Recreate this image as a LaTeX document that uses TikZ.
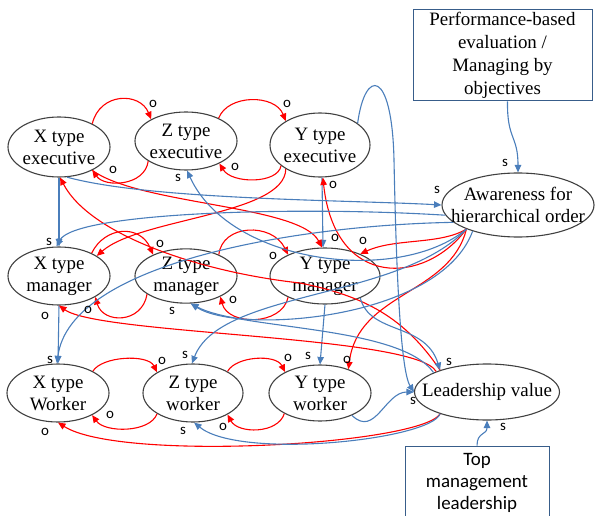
\documentclass[tikz,border=0pt]{standalone}
\usepackage{fontspec}
\setmainfont{Liberation Serif}
\newfontfamily\lblfont{Carlito}
\usetikzlibrary{arrows.meta,shapes.geometric}
\definecolor{linkred}{RGB}{255,0,0}
\definecolor{linkblue}{RGB}{74,126,187}
\definecolor{rim}{RGB}{64,64,64}
\definecolor{boxrim}{RGB}{56,93,138}
% two centred lines that do not widen the node
\newcommand{\twoln}[2]{\makebox[0pt]{#1}\\\makebox[0pt]{#2}}
\begin{document}
\begin{tikzpicture}[x=1bp,y=-1bp,
  actor/.style={ellipse, draw=rim, line width=1.1bp, inner sep=0pt, align=center,
    font=\fontsize{19}{22}\selectfont},
  driver/.style={rectangle, draw=boxrim, line width=1bp, inner sep=0pt, align=center},
  tip/.style={-{Triangle[length=7.5bp,width=6.5bp]}},
  ro/.style={draw=linkred, line width=1.1bp, tip},
  bs/.style={draw=linkblue, line width=1.1bp, tip},
  lbl/.style={font=\lblfont\fontsize{15}{15}\selectfont, inner sep=0pt}]
\useasboundingbox (0,0) rectangle (595,516);

% actors
\node[actor, minimum width=102bp, minimum height=60bp] (Xe) at (59,147) {\twoln{X type}{executive}};
\node[actor, minimum width=102bp, minimum height=58bp] (Ze) at (186,141) {\twoln{Z type}{executive}};
\node[actor, minimum width=100bp, minimum height=64bp] (Ye) at (320,145) {\twoln{Y type}{executive}};
\node[actor, minimum width=152bp, minimum height=64bp] (Aw) at (518,205) {\twoln{Awareness for}{hierarchical order}};
\node[actor, minimum width=102bp, minimum height=58bp] (Xm) at (59,276) {\twoln{X type}{manager}};
\node[actor, minimum width=102bp, minimum height=54bp] (Zm) at (186,276) {\twoln{Z type}{manager}};
\node[actor, minimum width=110bp, minimum height=56bp] (Ym) at (325,276) {\twoln{Y type}{manager}};
\node[actor, minimum width=102bp, minimum height=58bp] (Xw) at (58,393) {\twoln{X type}{Worker}};
\node[actor, minimum width=100bp, minimum height=58bp] (Zw) at (193,393) {\twoln{Z type}{worker}};
\node[actor, minimum width=102bp, minimum height=56bp] (Yw) at (320,393) {\twoln{Y type}{worker}};
\node[actor, minimum width=145bp, minimum height=56bp] (Lv) at (487,392) {\makebox[0pt]{Leadership value}};

% external drivers
\node[driver, minimum width=179bp, minimum height=91bp, font=\fontsize{19}{23}\selectfont] (perf) at (502.5,55.5)
  {\twoln{Performance-based}{evaluation /}\\\makebox[0pt]{Managing by}\\\makebox[0pt]{objectives}};
\node[driver, minimum width=144bp, minimum height=74bp, font=\lblfont\fontsize{19}{22}\selectfont] (topm) at (477,483)
  {\makebox[0pt]{Top}\\\makebox[0pt]{management}\\\makebox[0pt]{leadership}};

% loops within the executive row
\draw[ro] (Xe.35) .. controls (100,92) and (140,92) .. (Ze.148);
\draw[ro] (Ze.208) .. controls (145,186) and (105,188) .. (Xe.-35);
\draw[ro] (Ze.35) .. controls (228,94) and (275,94) .. (Ye.145);
\draw[ro] (Ye.208) .. controls (278,184) and (232,184) .. (Ze.-34);

% loops within the manager row
\draw[ro] (Xm.35) .. controls (105,226) and (140,224) .. (Zm.147);
\draw[ro] (Zm.205) .. controls (142,324) and (103,324) .. (Xm.-30);
\draw[ro] (Zm.33) .. controls (222,224) and (272,222) .. (Ym.150);
\draw[ro] (Ym.210) .. controls (282,326) and (228,326) .. (Zm.-31);

% loops within the worker row
\draw[ro] (Xw.32) .. controls (102,356) and (148,354) .. (Zw.150);
\draw[ro] (Zw.210) .. controls (150,433) and (105,433) .. (Xw.-33);
\draw[ro] (Zw.32) .. controls (236,356) and (276,354) .. (Yw.149);
\draw[ro] (Yw.210) .. controls (278,434) and (238,434) .. (Zw.-32);

% hierarchy lines
\draw[bs] (Xe.south) -- (Xm.north);
\draw[bs] (Xm.south) -- (Xw.north);
\draw[bs] ([xshift=2bp]Ye.south) -- ([xshift=-2bp]Ym.north);
\draw[bs] (Ym.south) -- (Yw.north);

% cross-level opposition
\draw[ro] (Ye.215) .. controls (285,215) and (140,218) .. (Xm.28);
\draw[ro] (Xe.-35) .. controls (140,205) and (300,205) .. (Ym.96);
\draw[ro] (Lv.155) .. controls (405,318) and (365,296) .. (300,283)
  .. controls (200,272) and (90,235) .. (Xe.-88);
\draw[ro] (Lv.158) .. controls (415,335) and (100,335) .. (Xm.-90);
\draw[ro] (Lv.205) .. controls (420,445) and (120,462) .. (Xw.-90);
\draw[ro] (Aw.205) .. controls (440,245) and (395,238) .. (Ym.32);
\draw[ro] (Aw.205) .. controls (450,295) and (358,292) .. (Yw.40);
\draw[ro] (Aw.205) .. controls (425,285) and (335,290) .. (Ye.-85);

% supporting links
\draw[bs] (Xe.-75) .. controls (150,200) and (350,200) .. (Aw.west);
\draw[bs] (Aw.188) .. controls (300,206) and (75,212) .. (Xm.95);
\draw[bs] (Aw.195) .. controls (300,225) and (70,262) .. (Xw.92);
\draw[bs] (Aw.205) .. controls (400,285) and (230,265) .. (Ze.-88);
\draw[bs] (Aw.205) .. controls (400,300) and (220,290) .. (Zw.92);
\draw[bs] (Aw.210) .. controls (440,320) and (240,335) .. (Zm.-80);
\draw[bs] (Lv.160) .. controls (400,325) and (240,330) .. (Zm.-80);
\draw[bs] (Lv.205) .. controls (430,440) and (240,460) .. (Zw.-88);
\draw[bs] ([xshift=5bp]perf.south) .. controls (507,140) and (518,135) .. (Aw.north);
\draw[bs] (topm.north) .. controls (477,432) and (487,435) .. (Lv.south);
\draw[bs] (Ye.30) .. controls (365,68) and (392,68) .. (394,160)
  .. controls (396,260) and (400,370) .. (Lv.west);
\draw[bs] (Yw.-35) .. controls (375,438) and (385,392) .. (Lv.west);
\draw[bs] (Ym.-32) .. controls (370,335) and (425,322) .. (Lv.155);

% sign labels
\node[lbl] (o1) at (153,104) {o};
\node[lbl] (o2) at (113,170) {o};
\node[lbl] (o3) at (287,104) {o};
\node[lbl] (o4) at (235,167) {o};
\node[lbl] (s1) at (178,178) {s};
\node[lbl] (o5) at (333,185) {o};
\node[lbl] (s2) at (437,190) {s};
\node[lbl] (s3) at (505,163) {s};
\node[lbl] (s4) at (49,242) {s};
\node[lbl] (o6) at (160,244) {o};
\node[lbl] (o7) at (273,256) {o};
\node[lbl] (o8) at (335,238) {o};
\node[lbl] (o9) at (363,241) {o};
\node[lbl] (o10) at (45,316) {o};
\node[lbl] (o11) at (88,310) {o};
\node[lbl] (s5) at (172,311) {s};
\node[lbl] (o12) at (233,300) {o};
\node[lbl] (s6) at (50,360) {s};
\node[lbl] (o13) at (162,361) {o};
\node[lbl] (s7) at (185,355) {s};
\node[lbl] (o14) at (288,358) {o};
\node[lbl] (s8) at (308,356) {s};
\node[lbl] (o15) at (347,360) {o};
\node[lbl] (s9) at (449,362) {s};
\node[lbl] (s10) at (413,401) {s};
\node[lbl] (o16) at (110,415) {o};
\node[lbl] (o17) at (223,427) {o};
\node[lbl] (o18) at (45,432) {o};
\node[lbl] (s11) at (183,431) {s};
\node[lbl] (s12) at (503,427) {s};
\end{tikzpicture}
\end{document}
